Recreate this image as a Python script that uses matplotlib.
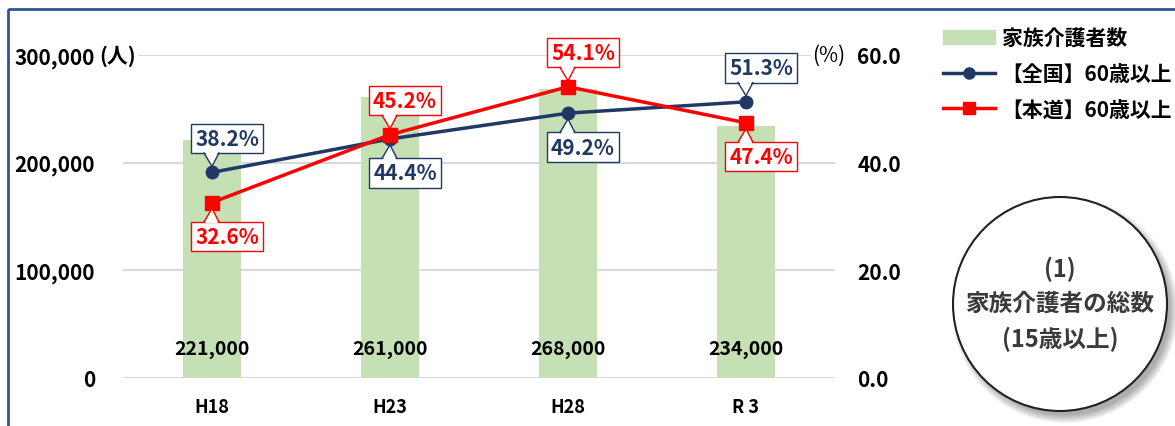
import numpy as np
import matplotlib.pyplot as plt
from matplotlib.lines import Line2D
from matplotlib.patches import Patch, Circle, Rectangle, Polygon
from matplotlib.transforms import IdentityTransform

plt.rcParams['font.family'] = ['Noto Sans CJK JP', 'DejaVu Sans']
plt.rcParams['font.weight'] = 'bold'

# data
years = ['H18', 'H23', 'H28', 'R 3']
carers = [221000, 261000, 268000, 234000]
zenkoku = [38.2, 44.4, 49.2, 51.3]
hondo = [32.6, 45.2, 54.1, 47.4]
# label above (+1) or below (-1) the marker
zenkoku_side = [1, -1, -1, 1]
hondo_side = [-1, 1, 1, -1]

NAVY = '#203864'
RED = '#FF0000'
GREEN = '#C5E0B4'

W, H = 1175, 427
fig = plt.figure(figsize=(W / 100, H / 100), dpi=100)
ax = fig.add_axes([123 / W, 1 - 379 / H, (835 - 123) / W, (379 - 56) / H])
x = np.arange(len(years))

ax.bar(x, carers, width=0.33, color=GREEN, zorder=2)
ax.set_xlim(-0.5, len(years) - 0.5)
ax.set_ylim(0, 300000)
ax.set_yticks([0, 100000, 200000, 300000])
ax.set_yticklabels([f'{v:,}' for v in [0, 100000, 200000, 300000]], fontsize=15)
ax.set_xticks(x)
ax.set_xticklabels(years, fontsize=13)
ax.tick_params(length=0)
ax.tick_params(axis='y', pad=20)
ax.tick_params(axis='x', pad=14)
ax.grid(axis='y', color='#D9D9D9', lw=1.5, zorder=0)
for s in ax.spines.values():
    s.set_visible(False)

for i, v in enumerate(carers):
    ax.text(i, 0.09, f'{v:,}', transform=ax.get_xaxis_transform(),
            ha='center', va='center', fontsize=14, zorder=3)

ax.text(-0.033, 1.0, '(人)', transform=ax.transAxes, ha='left', va='center',
        fontsize=15, bbox=dict(fc='white', ec='none', pad=1))

ax2 = ax.twinx()
ax2.set_ylim(0, 60)
ax2.set_yticks([0, 20, 40, 60])
ax2.set_yticklabels([f'{v:.1f}' for v in [0, 20, 40, 60]], fontsize=15)
ax2.tick_params(length=0, pad=16)
for s in ax2.spines.values():
    s.set_visible(False)
ax2.text(1.015, 1.0, '(%)', transform=ax2.transAxes, ha='right', va='center',
         fontsize=15, fontweight='normal', bbox=dict(fc='white', ec='none', pad=1))

ax2.plot(x, zenkoku, color=NAVY, lw=2.5, marker='o', ms=9, zorder=3)
ax2.plot(x, hondo, color=RED, lw=2.5, marker='s', ms=9.5, zorder=3)

# callout labels: box + pointer triangle
callouts = []


def label_points(vals, sides, color):
    for i, (v, s) in enumerate(zip(vals, sides)):
        t = ax2.annotate(f'{v}%', xy=(i, v), xytext=(15, 34 * s), textcoords='offset pixels',
                         ha='center', va='center', fontsize=15, color=color, zorder=6,
                         bbox=dict(boxstyle='square,pad=0.2', fc='white', ec=color, lw=1))
        callouts.append((t, i, v, s, color))


label_points(zenkoku, zenkoku_side, NAVY)
label_points(hondo, hondo_side, RED)

fig.canvas.draw()
disp = IdentityTransform()
for t, i, v, s, color in callouts:
    bb = t.get_bbox_patch().get_window_extent()
    px, py = ax2.transData.transform((i, v))
    base_y = bb.y0 if s > 0 else bb.y1
    tip = (px, py + 6 * s)
    b1 = (px - 8, base_y)
    b2 = (px + 7, base_y)
    inner = 1.5 * s
    ax2.add_patch(Polygon([(b1[0] + 0.8, base_y + inner), tip, (b2[0] - 0.8, base_y + inner)],
                          closed=True, fc='white', ec='none', transform=disp,
                          zorder=7, clip_on=False))
    ax2.add_line(Line2D([b1[0], tip[0], b2[0]], [b1[1], tip[1], b2[1]], color=color,
                        lw=1, transform=disp, zorder=7, clip_on=False))

# legend
handles = [Patch(color=GREEN),
           Line2D([], [], color=NAVY, lw=2.5, marker='o', ms=8),
           Line2D([], [], color=RED, lw=2.5, marker='s', ms=8)]
labels = ['家族介護者数', '【全国】60歳以上', '【本道】60歳以上']
fig.legend(handles, labels, loc='upper left', bbox_to_anchor=(935 / W, 1 - 20 / H),
           frameon=False, fontsize=15, handlelength=2.5, handletextpad=0.3,
           labelspacing=0.7, borderaxespad=0)

# overlay in pixel units: frame border and the circle badge
bg = fig.add_axes([0, 0, 1, 1], zorder=5)
bg.set_xlim(0, W)
bg.set_ylim(H, 0)
bg.axis('off')
bg.add_patch(Rectangle((7.5, 10), W + 20, H + 20, fill=False, ec='#2F5597', lw=2))

cx, cy, r = 1060, 305, 107
for k in range(10):
    bg.add_patch(Circle((cx + 5, cy + 6), r - 2 + k * 0.9, color='#000000', alpha=0.035, lw=0))
bg.add_patch(Circle((cx, cy), r, fc='white', ec='#222222', lw=1.5))
for ty, t in zip([269, 304, 339], ['(1)', '家族介護者の総数', '(15歳以上)']):
    bg.text(cx, ty, t, ha='center', va='center', fontsize=17, color='#3A3A3A')

fig.savefig('out.png', dpi=100)
